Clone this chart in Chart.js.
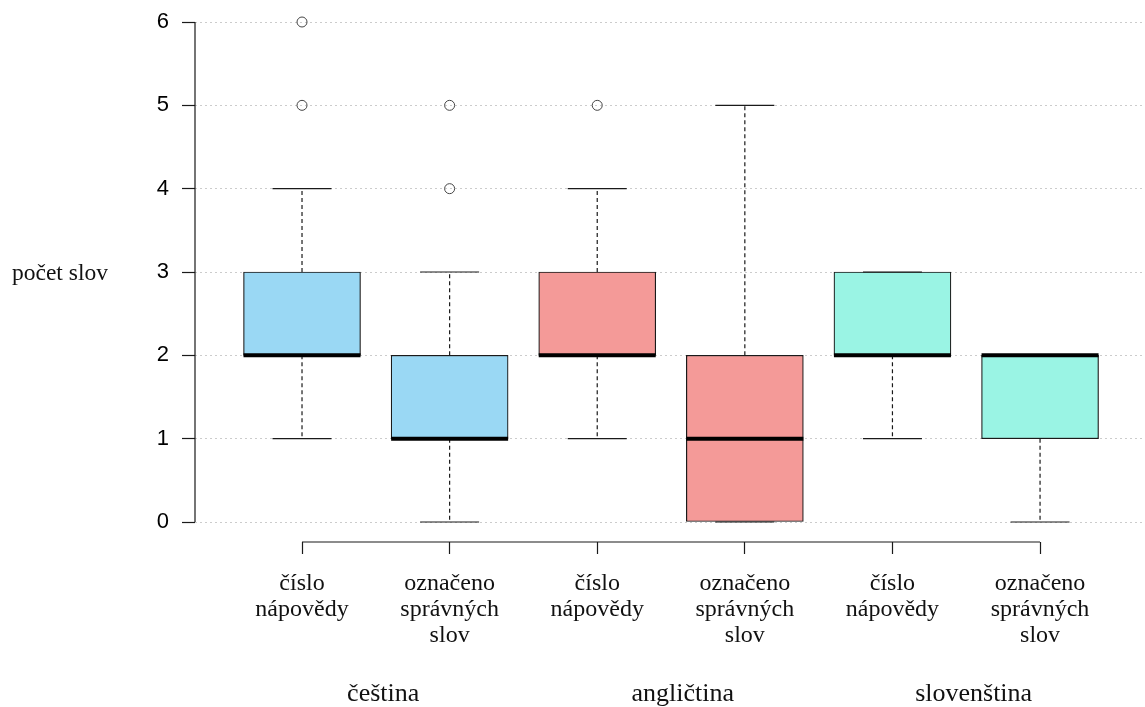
<!DOCTYPE html>
<html>
<head>
<meta charset="utf-8">
<script src="https://cdn.jsdelivr.net/npm/chart.js@4.4.1/dist/chart.umd.min.js"></script>
<style>
  html, body { margin: 0; padding: 0; background: #fff; }
  #wrap { width: 1145px; height: 707px; }
</style>
</head>
<body>
<div id="wrap"><canvas id="chart"></canvas></div>
<script>
// data
const groupLabels = ['čeština', 'angličtina', 'slovenština'];
const groupPositions = [1.55, 3.58, 5.55];
const boxLabels = [
    ['číslo', 'nápovědy'], ['označeno', 'správných', 'slov'],
    ['číslo', 'nápovědy'], ['označeno', 'správných', 'slov'],
    ['číslo', 'nápovědy'], ['označeno', 'správných', 'slov']
];
const boxPositions = [1, 2, 3, 4, 5, 6];
const whiskerLow  = [1, 0, 1, 0, 1, 0];
const q1          = [2, 1, 2, 0, 2, 1];
const median      = [2, 1, 2, 1, 2, 2];
const q3          = [3, 2, 3, 2, 3, 2];
const whiskerHigh = [4, 3, 4, 5, 3, 2];
const outliers    = [[5, 6], [4, 5], [5], [], [], []];
const boxColors = ['#9ad8f4', '#9ad8f4', '#f49a98', '#f49a98', '#9af4e4', '#9af4e4'];
const yTicks = [0, 1, 2, 3, 4, 5, 6];
const yTitle = 'počet slov';

const INK = '#1a1a1a';

// whisker segments: box edge -> whisker end, null breaks the line
const whiskerData = [];
boxPositions.forEach((x, i) => {
    whiskerData.push({ x, y: q3[i] }, { x, y: whiskerHigh[i] }, { x, y: null });
    whiskerData.push({ x, y: q1[i] }, { x, y: whiskerLow[i] }, { x, y: null });
});
const capData = [];
boxPositions.forEach((x, i) => {
    capData.push({ x, y: whiskerLow[i] }, { x, y: whiskerHigh[i] });
});
const medianData = boxPositions.map((x, i) => ({ x, y: median[i] }));
const outlierData = [];
boxPositions.forEach((x, i) => outliers[i].forEach(v => outlierData.push({ x, y: v })));

// axis lines only between first and last tick, plus horizontal y title
const axisLines = {
    id: 'axisLines',
    afterDraw(chart) {
        const { ctx, chartArea, scales: { x, y } } = chart;
        ctx.save();
        ctx.strokeStyle = INK;
        ctx.lineWidth = 1.2;
        ctx.beginPath();
        ctx.moveTo(chartArea.left, y.getPixelForValue(yTicks[0]));
        ctx.lineTo(chartArea.left, y.getPixelForValue(yTicks[yTicks.length - 1]));
        ctx.moveTo(x.getPixelForValue(boxPositions[0]), chartArea.bottom);
        ctx.lineTo(x.getPixelForValue(boxPositions[boxPositions.length - 1]), chartArea.bottom);
        ctx.stroke();
        ctx.font = '23.5px "Liberation Serif"';
        ctx.fillStyle = '#111';
        ctx.textAlign = 'left';
        ctx.textBaseline = 'middle';
        ctx.fillText(yTitle, 12, (chartArea.top + chartArea.bottom) / 2 + 2);
        ctx.restore();
    }
};

const X_MIN = 0.275, X_MAX = 6.711;

new Chart(document.getElementById('chart').getContext('2d'), {
    type: 'bar',
    data: {
        datasets: [
            {
                type: 'bar',
                data: boxPositions.map((x, i) => ({ x, y: [q1[i], q3[i]] })),
                backgroundColor: boxColors,
                borderColor: INK,
                borderWidth: 1.2,
                borderSkipped: false,
                barThickness: 117,
                order: 5
            },
            {
                type: 'line',
                data: whiskerData,
                borderColor: INK,
                borderWidth: 1.2,
                borderDash: [4, 3],
                pointRadius: 0,
                spanGaps: false,
                fill: false,
                order: 4
            },
            {
                type: 'scatter',
                data: capData,
                pointStyle: 'line',
                pointRadius: 29.5,
                pointBorderColor: INK,
                pointBorderWidth: 1.2,
                order: 3
            },
            {
                type: 'scatter',
                data: medianData,
                pointStyle: 'line',
                pointRadius: 58.5,
                pointBorderColor: '#000',
                pointBorderWidth: 4,
                order: 2
            },
            {
                type: 'scatter',
                data: outlierData,
                pointStyle: 'circle',
                pointRadius: 5,
                pointBackgroundColor: 'rgba(0,0,0,0)',
                pointBorderColor: '#444',
                pointBorderWidth: 1,
                order: 1
            }
        ]
    },
    options: {
        responsive: true,
        maintainAspectRatio: false,
        animation: false,
        layout: { autoPadding: false, padding: { top: 2, left: 0, right: 0, bottom: 0 } },
        plugins: { legend: { display: false }, tooltip: { enabled: false } },
        scales: {
            x: {
                type: 'linear',
                position: 'bottom',
                offset: false,
                min: X_MIN,
                max: X_MAX,
                afterBuildTicks: s => { s.ticks = boxPositions.map(v => ({ value: v })); },
                afterFit: s => { s.height = 120; },
                grid: { offset: false, drawOnChartArea: false, drawTicks: true, tickLength: 12, tickColor: INK, tickWidth: 1.2 },
                border: { display: false },
                ticks: {
                    callback: (v, i) => boxLabels[i],
                    font: { family: 'Liberation Serif', size: 24, lineHeight: 1.083 },
                    color: '#111',
                    padding: 17,
                    maxRotation: 0,
                    autoSkip: false
                }
            },
            x2: {
                type: 'linear',
                position: 'bottom',
                offset: false,
                min: X_MIN,
                max: X_MAX,
                afterBuildTicks: s => { s.ticks = groupPositions.map(v => ({ value: v })); },
                afterFit: s => { s.height = 45; },
                grid: { display: false, offset: false },
                border: { display: false },
                ticks: {
                    callback: (v, i) => groupLabels[i],
                    font: { family: 'Liberation Serif', size: 26 },
                    color: '#111',
                    padding: 9,
                    maxRotation: 0,
                    autoSkip: false
                }
            },
            y: {
                min: -0.24,
                max: 6.24,
                z: 1,
                afterBuildTicks: s => { s.ticks = yTicks.map(v => ({ value: v })); },
                afterFit: s => { s.width = 195; s.paddingTop = 0; s.paddingBottom = 0; },
                grid: { color: '#cccccc', lineWidth: 1, tickLength: 13, tickColor: INK, tickWidth: 1.2, tickBorderDash: [] },
                border: { display: false, dash: [2, 3] },
                ticks: {
                    font: { family: 'Liberation Sans', size: 22 },
                    color: '#000',
                    padding: 13
                }
            }
        }
    },
    plugins: [axisLines]
});
</script>
</body>
</html>
